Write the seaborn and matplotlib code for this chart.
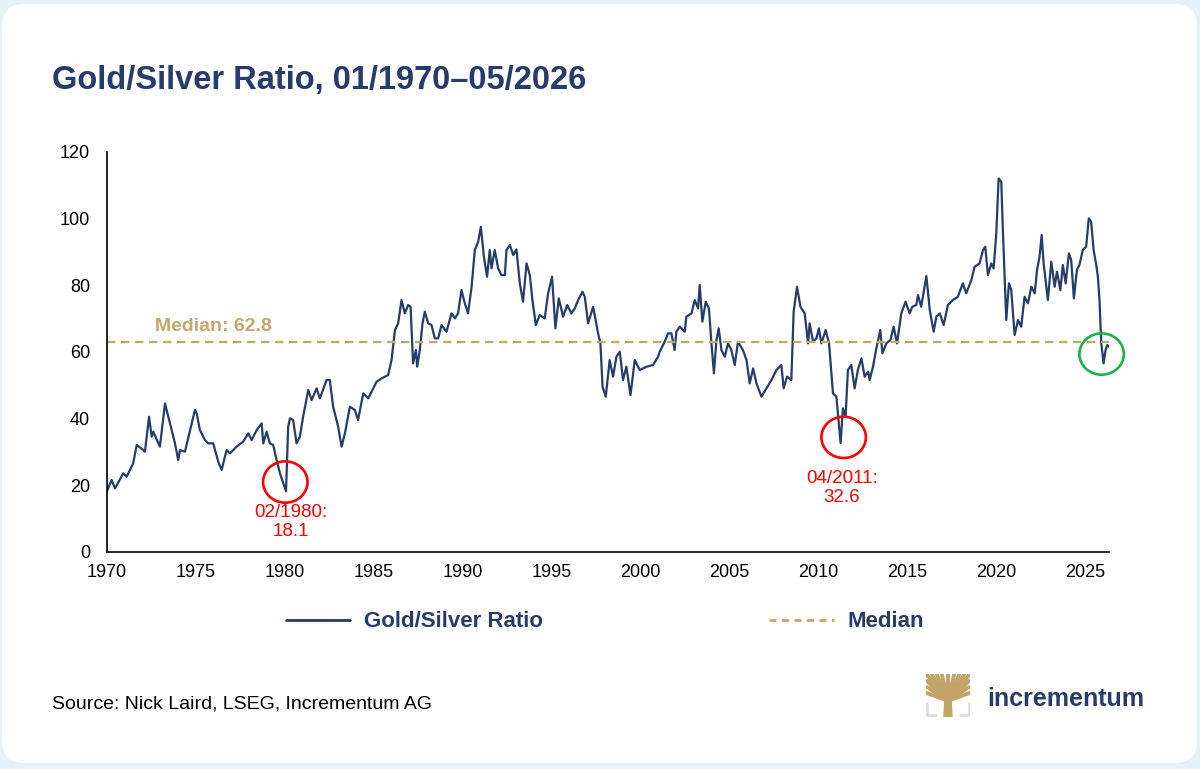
import numpy as np
import pandas as pd
import matplotlib
matplotlib.use("Agg")
import matplotlib.pyplot as plt
from matplotlib.patches import FancyBboxPatch, Ellipse, Polygon
from matplotlib.lines import Line2D
import matplotlib.transforms as mtrans
import seaborn as sns

# monthly-ish readings of the gold/silver ratio
years = [
    1970.00, 1970.28, 1970.47, 1970.93, 1971.12, 1971.49, 1971.69, 1972.06, 1972.15, 1972.38,
    1972.53, 1972.62, 1972.99, 1973.28, 1973.37, 1973.56, 1973.84, 1974.02, 1974.12, 1974.40,
    1974.96, 1975.06, 1975.24, 1975.52, 1975.71, 1975.99, 1976.27, 1976.46, 1976.74, 1976.93,
    1977.30, 1977.67, 1977.96, 1978.15, 1978.43, 1978.71, 1978.80, 1978.99, 1979.17, 1979.36,
    1979.55, 1979.74, 1980.08, 1980.20, 1980.30, 1980.48, 1980.67, 1980.86, 1981.04, 1981.33,
    1981.52, 1981.80, 1981.98, 1982.36, 1982.54, 1982.73, 1983.01, 1983.20, 1983.39, 1983.67,
    1983.95, 1984.13, 1984.42, 1984.70, 1984.98, 1985.17, 1985.45, 1985.82, 1986.01, 1986.20,
    1986.38, 1986.57, 1986.76, 1986.94, 1987.08, 1987.22, 1987.38, 1987.45, 1987.60, 1987.75,
    1987.88, 1988.07, 1988.26, 1988.44, 1988.63, 1988.82, 1989.10, 1989.38, 1989.57, 1989.75,
    1989.94, 1990.13, 1990.31, 1990.51, 1990.69, 1990.88, 1991.03, 1991.20, 1991.38, 1991.53,
    1991.63, 1991.81, 1992.00, 1992.19, 1992.38, 1992.47, 1992.66, 1992.85, 1993.03, 1993.22,
    1993.40, 1993.60, 1993.78, 1993.93, 1994.12, 1994.34, 1994.62, 1994.81, 1995.03, 1995.22,
    1995.41, 1995.65, 1995.88, 1996.12, 1996.31, 1996.50, 1996.74, 1996.87, 1997.06, 1997.34,
    1997.62, 1997.75, 1997.87, 1998.05, 1998.27, 1998.46, 1998.65, 1998.84, 1999.02, 1999.21,
    1999.44, 1999.68, 1999.96, 2000.34, 2000.71, 2000.99, 2001.08, 2001.36, 2001.55, 2001.74,
    2001.92, 2002.02, 2002.21, 2002.49, 2002.58, 2002.87, 2003.05, 2003.24, 2003.33, 2003.48,
    2003.67, 2003.85, 2003.99, 2004.13, 2004.27, 2004.40, 2004.55, 2004.74, 2004.92, 2005.11,
    2005.30, 2005.48, 2005.76, 2005.96, 2006.14, 2006.33, 2006.52, 2006.80, 2007.08, 2007.36,
    2007.64, 2007.92, 2008.05, 2008.24, 2008.48, 2008.61, 2008.80, 2008.99, 2009.23, 2009.42,
    2009.51, 2009.70, 2009.89, 2010.03, 2010.17, 2010.41, 2010.60, 2010.82, 2011.01, 2011.25,
    2011.38, 2011.53, 2011.66, 2011.85, 2012.04, 2012.22, 2012.42, 2012.60, 2012.80, 2012.88,
    2013.07, 2013.26, 2013.48, 2013.60, 2013.82, 2014.05, 2014.23, 2014.42, 2014.66, 2014.90,
    2015.13, 2015.28, 2015.50, 2015.60, 2015.78, 2016.07, 2016.26, 2016.48, 2016.63, 2016.82,
    2017.04, 2017.28, 2017.56, 2017.84, 2018.12, 2018.31, 2018.60, 2018.78, 2019.06, 2019.25,
    2019.38, 2019.53, 2019.72, 2019.85, 2020.00, 2020.13, 2020.28, 2020.37, 2020.56, 2020.71,
    2020.84, 2021.03, 2021.22, 2021.40, 2021.59, 2021.78, 2021.97, 2022.16, 2022.29, 2022.43,
    2022.55, 2022.66, 2022.90, 2023.09, 2023.28, 2023.41, 2023.60, 2023.74, 2023.90, 2024.08,
    2024.21, 2024.36, 2024.53, 2024.67, 2024.86, 2025.05, 2025.20, 2025.33, 2025.47, 2025.62,
    2025.71, 2025.80, 2025.90, 2026.03, 2026.14, 2026.24, 2026.33,
]
ratio = [
    18.0, 21.5, 19.0, 23.5, 22.5, 26.5, 32.0, 30.5, 30.0, 40.5,
    34.5, 36.0, 31.5, 44.5, 42.5, 38.5, 32.5, 27.5, 30.5, 30.0,
    42.5, 41.5, 36.5, 33.5, 32.5, 32.5, 27.0, 24.5, 30.5, 29.5,
    31.5, 33.0, 35.5, 33.5, 36.5, 38.5, 32.5, 36.0, 32.5, 32.0,
    27.5, 23.5, 18.1, 37.5, 40.0, 39.5, 32.5, 34.5, 40.5, 48.5,
    45.5, 49.0, 46.0, 51.5, 51.5, 43.5, 37.5, 31.5, 35.5, 43.5,
    42.5, 39.5, 47.5, 46.0, 49.0, 51.0, 52.0, 53.0, 57.5, 66.5,
    68.5, 75.5, 71.5, 74.0, 73.5, 56.5, 60.5, 55.5, 60.5, 68.5,
    72.0, 68.5, 68.0, 64.0, 64.0, 68.0, 66.0, 71.5, 70.0, 71.5,
    78.5, 74.5, 71.5, 79.5, 90.5, 93.0, 97.5, 88.5, 82.5, 90.5,
    85.0, 90.5, 85.0, 83.0, 83.0, 90.5, 92.0, 89.0, 90.7, 80.5,
    75.0, 86.5, 83.0, 75.5, 68.0, 71.0, 70.0, 77.5, 82.5, 67.0,
    76.0, 70.5, 74.0, 71.5, 73.0, 75.5, 78.0, 76.5, 68.5, 73.5,
    65.5, 62.5, 49.5, 46.5, 57.5, 52.5, 58.5, 60.0, 51.5, 55.5,
    47.0, 57.5, 54.5, 55.5, 56.0, 58.5, 60.0, 63.0, 65.5, 65.5,
    60.5, 66.0, 67.5, 66.0, 70.5, 71.5, 75.5, 73.0, 80.0, 69.0,
    75.0, 73.0, 62.5, 53.5, 63.5, 67.0, 60.5, 58.5, 62.5, 60.5,
    56.0, 63.0, 60.5, 57.5, 50.5, 55.0, 50.5, 46.5, 49.0, 51.5,
    54.5, 56.0, 49.0, 52.5, 51.5, 72.0, 79.5, 73.5, 71.5, 62.5,
    68.5, 63.0, 64.0, 67.0, 62.5, 66.5, 62.5, 47.5, 46.5, 32.6,
    43.0, 40.5, 54.5, 56.0, 49.0, 54.5, 58.0, 52.5, 54.0, 51.5,
    55.5, 61.0, 66.5, 59.5, 62.5, 63.5, 67.5, 62.5, 71.5, 75.0,
    71.5, 73.5, 74.0, 77.0, 73.5, 82.7, 72.5, 66.0, 70.5, 71.5,
    68.0, 74.0, 75.5, 76.5, 80.5, 77.5, 81.5, 85.5, 86.5, 90.5,
    91.5, 83.0, 86.5, 85.0, 95.5, 112.0, 111.0, 96.5, 69.5, 80.5,
    78.5, 65.0, 69.5, 67.5, 76.5, 74.5, 79.5, 77.5, 84.5, 88.5,
    95.0, 86.5, 75.5, 87.0, 79.5, 84.0, 78.5, 86.0, 80.5, 89.5,
    87.5, 76.0, 84.5, 86.0, 90.5, 91.5, 100.0, 99.0, 90.5, 86.0,
    82.5, 75.5, 62.5, 56.5, 60.5, 62.0, 61.5,
]
median_value = 62.8

# highlighted lows: (label, year, value)
lows = [("02/1980", 1980.08, 18.1), ("04/2011", 2011.25, 32.6)]

navy = "#263C6A"
tan = "#C3A76C"
red = "#FF0000"
green = "#1FAF4B"

df = pd.DataFrame({"year": years, "ratio": ratio})

sns.set_theme(style="white")
plt.rcParams["font.family"] = ["Liberation Sans", "DejaVu Sans"]

fig = plt.figure(figsize=(12, 7.69), dpi=100)
fig.patch.set_facecolor("#E5F0F7")
card = FancyBboxPatch((2, 6), 1195, 759, boxstyle="round,pad=0,rounding_size=22",
                      facecolor="white", edgecolor="none",
                      transform=mtrans.IdentityTransform(), zorder=-10)
fig.add_artist(card)

ax = fig.add_axes([0.0889, 0.2826, 0.8355, 0.5201])
ax.set_facecolor("none")

sns.lineplot(data=df, x="year", y="ratio", ax=ax, color=navy, linewidth=1.6,
             estimator=None, sort=False, legend=False)
ax.axhline(median_value, color=tan, linewidth=1.6, dashes=(3.8, 2.5))

ax.set_xlim(1970, 2026.35)
ax.set_ylim(0, 120)
ax.set_xticks(np.arange(1970, 2026, 5))
ax.set_yticks(np.arange(0, 121, 20))
ax.set_xlabel("")
ax.set_ylabel("")
for s in ["top", "right"]:
    ax.spines[s].set_visible(False)
for s in ["left", "bottom"]:
    ax.spines[s].set_color("black")
    ax.spines[s].set_linewidth(1.2)
ax.tick_params(axis="both", which="major", direction="out", length=4, width=1.2,
               color="black", labelsize=13, labelcolor="black")
ax.tick_params(axis="y", pad=8)
ax.tick_params(axis="x", pad=5)
ax.grid(False)

ax.text(1972.7, median_value + 3.4, f"Median: {median_value}", color=tan,
        fontsize=14, fontweight="bold", va="baseline", ha="left")

# circles round the lows and the latest reading
circle_pts = [(1980.04, 20.9, red), (2011.42, 34.3, red), (2025.92, 59.3, green)]
for cx, cy, col in circle_pts:
    ax.add_patch(Ellipse((cx, cy), 2.5, 12.4, fill=False, edgecolor=col,
                         linewidth=1.9, clip_on=False, zorder=5))

label_pos = [(1980.34, 14.3), (2011.32, 24.5)]
for (name, yr, val), (tx, ty) in zip(lows, label_pos):
    ax.text(tx, ty, f"{name}:\n{val}", color=red, fontsize=13.5, ha="center",
            va="top", multialignment="center", linespacing=1.15)

fig.text(0.0433, 0.8843, "Gold/Silver Ratio, 01/1970\u201305/2026", color=navy,
         fontsize=23.5, fontweight="bold", va="baseline", ha="left")

handles = [Line2D([], [], color=navy, linewidth=2),
           Line2D([], [], color=tan, linewidth=2, dashes=(2.5, 2))]
leg = fig.legend(handles, ["Gold/Silver Ratio", "Median"], loc="center",
                 bbox_to_anchor=(0.504, 0.1912), ncol=2, frameon=False,
                 handlelength=2.9, handletextpad=0.6, columnspacing=10.2,
                 prop={"size": 16, "weight": "bold"})
for t in leg.get_texts():
    t.set_color(navy)

fig.text(0.0433, 0.0789, "Source: Nick Laird, LSEG, Incrementum AG", color="black",
         fontsize=14, va="baseline", ha="left")
fig.text(0.8225, 0.0819, "incrementum", color=navy, fontsize=18,
         fontweight="bold", va="baseline", ha="left")

# small tree logo
lax = fig.add_axes([926 / 1200, 1 - 717 / 769, 44 / 1200, 43 / 769])
lax.set_xlim(0, 44)
lax.set_ylim(43, 0)
lax.axis("off")
gold = "#C3A468"
lax.add_patch(Polygon([(18, 43), (26, 43), (25, 22), (19, 22)], color=gold))
ends = [(1, 1), (6, 1), (11, 1), (16, 1), (22, 1), (28, 1), (33, 1), (38, 1), (43, 1),
        (1, 7), (43, 7), (1, 13), (43, 13), (1, 19), (43, 19)]
for ex, ey in ends:
    lax.plot([22, ex], [27, ey], color=gold, linewidth=2.8, solid_capstyle="round")
for bx, dx in [(1, 9), (43, -9)]:
    lax.plot([bx, bx, bx + dx], [29, 41, 41], color="#D9DADC", linewidth=1.8)

fig.savefig("out.png", dpi=100)
